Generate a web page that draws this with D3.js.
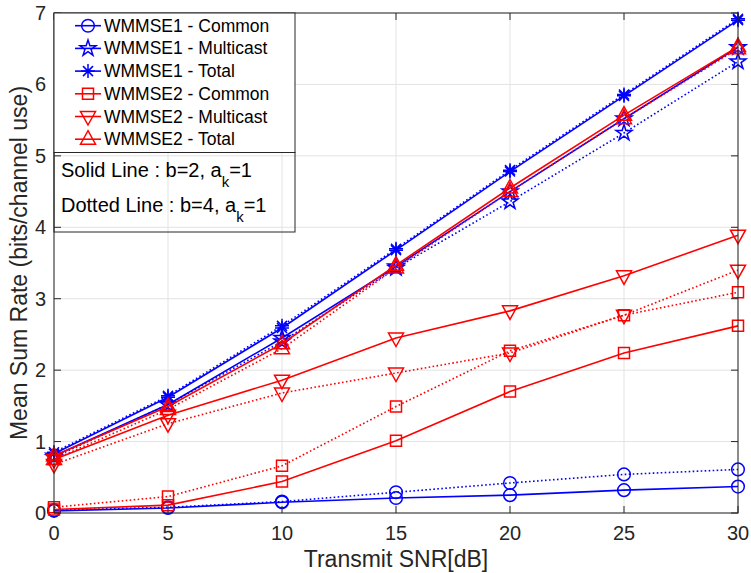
<!DOCTYPE html>
<html>
<head>
<meta charset="utf-8">
<script src="https://cdn.jsdelivr.net/npm/d3@7"></script>
<style>
  body { margin: 0; background: #fff; }
  svg { display: block; font-family: "Liberation Sans", Arial, sans-serif; }
</style>
</head>
<body>
<svg id="chart" width="751" height="573"></svg>
<script>
// x values (transmit SNR in dB)
const snr = [0, 5, 10, 15, 20, 25, 30];
const xTicks = [0, 5, 10, 15, 20, 25, 30];
const yTicks = [0, 1, 2, 3, 4, 5, 6, 7];

// b=2 (solid)
const w1CommonSolid = [0.03, 0.07, 0.15, 0.21, 0.25, 0.32, 0.37];
const w1MultiSolid = [0.80, 1.52, 2.45, 3.45, 4.50, 5.52, 6.52];
const w1TotalSolid = [0.83, 1.62, 2.59, 3.68, 4.78, 5.84, 6.90];
const w2CommonSolid = [0.05, 0.11, 0.44, 1.01, 1.70, 2.24, 2.62];
const w2MultiSolid = [0.75, 1.37, 1.86, 2.45, 2.83, 3.32, 3.89];
const w2TotalSolid = [0.80, 1.49, 2.37, 3.47, 4.55, 5.57, 6.53];

// b=4 (dotted)
const w1CommonDot = [0.04, 0.08, 0.16, 0.29, 0.42, 0.54, 0.61];
const w1MultiDot = [0.78, 1.52, 2.40, 3.43, 4.36, 5.32, 6.32];
const w1TotalDot = [0.85, 1.64, 2.62, 3.70, 4.80, 5.86, 6.92];
const w2CommonDot = [0.08, 0.23, 0.66, 1.49, 2.27, 2.77, 3.09];
const w2MultiDot = [0.68, 1.25, 1.68, 1.96, 2.24, 2.77, 3.40];
const w2TotalDot = [0.75, 1.45, 2.30, 3.43, 4.50, 5.52, 6.50];

const legendLabels = ["WMMSE1 - Common", "WMMSE1 - Multicast", "WMMSE1 - Total",
  "WMMSE2 - Common", "WMMSE2 - Multicast", "WMMSE2 - Total"];

const blue = "#0000ff", red = "#ff0000", axisCol = "#262626", gridCol = "#e3e3e3";

const series = [
  { vals: w1CommonSolid, color: blue, marker: "o", dotted: false },
  { vals: w1CommonDot, color: blue, marker: "o", dotted: true },
  { vals: w1MultiSolid, color: blue, marker: "p", dotted: false },
  { vals: w1MultiDot, color: blue, marker: "p", dotted: true },
  { vals: w1TotalSolid, color: blue, marker: "*", dotted: false },
  { vals: w1TotalDot, color: blue, marker: "*", dotted: true },
  { vals: w2CommonSolid, color: red, marker: "s", dotted: false },
  { vals: w2CommonDot, color: red, marker: "s", dotted: true },
  { vals: w2MultiSolid, color: red, marker: "v", dotted: false },
  { vals: w2MultiDot, color: red, marker: "v", dotted: true },
  { vals: w2TotalSolid, color: red, marker: "^", dotted: false },
  { vals: w2TotalDot, color: red, marker: "^", dotted: true }
];
const legendItems = [
  { color: blue, marker: "o" }, { color: blue, marker: "p" }, { color: blue, marker: "*" },
  { color: red, marker: "s" }, { color: red, marker: "v" }, { color: red, marker: "^" }
];

const svg = d3.select("#chart");
const margin = { left: 54, top: 13, right: 13, bottom: 60 };
const width = 751 - margin.left - margin.right;
const height = 573 - margin.top - margin.bottom;

const x = d3.scaleLinear().domain([0, 30]).range([0, width]);
const y = d3.scaleLinear().domain([0, 7]).range([height, 0]);

const g = svg.append("g").attr("transform", "translate(" + margin.left + "," + margin.top + ")");

// grid
g.append("g").selectAll("line").data(xTicks).join("line")
  .attr("x1", d => x(d)).attr("x2", d => x(d)).attr("y1", 0).attr("y2", height)
  .attr("stroke", gridCol).attr("stroke-width", 1);
g.append("g").selectAll("line").data(yTicks).join("line")
  .attr("y1", d => y(d)).attr("y2", d => y(d)).attr("x1", 0).attr("x2", width)
  .attr("stroke", gridCol).attr("stroke-width", 1);

// marker paths
function markerPath(m) {
  switch (m) {
    case "o": return d3.symbol(d3.symbolCircle, 125)();
    case "s": return "M-5.5,-5.5H5.5V5.5H-5.5Z";
    case "p": return d3.symbol(d3.symbolStar, 80)();
    case "^": return "M0,-8.5L7.5,5L-7.5,5Z";
    case "v": return "M0,8.5L7.5,-5L-7.5,-5Z";
    case "*": return "M-7,0H7M0,-7V7M-5,-5L5,5M-5,5L5,-5";
  }
}

const line = d3.line().x((d, i) => x(snr[i])).y(d => y(d));

const sg = g.append("g").selectAll("g").data(series).join("g");
sg.append("path")
  .attr("d", d => line(d.vals))
  .attr("fill", "none")
  .attr("stroke", d => d.color)
  .attr("stroke-width", 1.6)
  .attr("stroke-dasharray", d => d.dotted ? "1.6,2.4" : null);
sg.each(function (s) {
  d3.select(this).selectAll(".mk").data(s.vals).join("path")
    .attr("class", "mk")
    .attr("transform", (d, i) => "translate(" + x(snr[i]) + "," + y(d) + ")")
    .attr("d", markerPath(s.marker))
    .attr("fill", "none")
    .attr("stroke", s.color)
    .attr("stroke-width", 1.5);
});

// axes box with inward ticks
const tickLen = 7;
const axisG = g.append("g").attr("stroke", axisCol).attr("stroke-width", 1);
axisG.append("rect").attr("x", 0).attr("y", 0).attr("width", width).attr("height", height)
  .attr("fill", "none");
axisG.selectAll(".xtb").data(xTicks).join("line").attr("class", "xtb")
  .attr("x1", d => x(d)).attr("x2", d => x(d)).attr("y1", height).attr("y2", height - tickLen);
axisG.selectAll(".xtt").data(xTicks).join("line").attr("class", "xtt")
  .attr("x1", d => x(d)).attr("x2", d => x(d)).attr("y1", 0).attr("y2", tickLen);
axisG.selectAll(".ytl").data(yTicks).join("line").attr("class", "ytl")
  .attr("y1", d => y(d)).attr("y2", d => y(d)).attr("x1", 0).attr("x2", tickLen);
axisG.selectAll(".ytr").data(yTicks).join("line").attr("class", "ytr")
  .attr("y1", d => y(d)).attr("y2", d => y(d)).attr("x1", width).attr("x2", width - tickLen);

// tick labels
g.append("g").selectAll("text").data(xTicks).join("text")
  .attr("x", d => x(d)).attr("y", height + 27)
  .attr("text-anchor", "middle").attr("fill", axisCol).attr("font-size", 20)
  .text(d => d);
g.append("g").selectAll("text").data(yTicks).join("text")
  .attr("x", -8).attr("y", d => y(d) + 7)
  .attr("text-anchor", "end").attr("fill", axisCol).attr("font-size", 20)
  .text(d => d);

// axis labels
g.append("text").attr("x", width / 2).attr("y", height + 54)
  .attr("text-anchor", "middle").attr("fill", axisCol).attr("font-size", 23)
  .text("Transmit SNR[dB]");
g.append("text").attr("transform", "translate(-27," + (height / 2) + ") rotate(-90)")
  .attr("text-anchor", "middle").attr("fill", axisCol).attr("font-size", 23)
  .text("Mean Sum Rate (bits/channel use)");

// legend
const lg = g.append("g");
lg.append("rect").attr("x", 0).attr("y", 0).attr("width", 241).attr("height", 139.5)
  .attr("fill", "#fff").attr("stroke", axisCol).attr("stroke-width", 1);
const rows = lg.selectAll(".row").data(legendItems).join("g").attr("class", "row")
  .attr("transform", (d, i) => "translate(0," + (12.7 + i * 22.7) + ")");
rows.append("line").attr("x1", 21).attr("x2", 47).attr("stroke", d => d.color).attr("stroke-width", 1.6);
rows.append("path").attr("transform", "translate(34,0)")
  .attr("d", d => markerPath(d.marker)).attr("fill", "none")
  .attr("stroke", d => d.color).attr("stroke-width", 1.5);
rows.append("text").attr("x", 50).attr("y", 6).attr("font-size", 17.5).attr("fill", "#000")
  .text((d, i) => legendLabels[i]);

// annotation box
const ann = g.append("g").attr("transform", "translate(0,139.5)");
ann.append("rect").attr("x", 0).attr("y", 0).attr("width", 241).attr("height", 79.5)
  .attr("fill", "none").attr("stroke", axisCol).attr("stroke-width", 1);
const annLines = [["Solid Line : b=2, a", "k", "=1"], ["Dotted Line : b=4, a", "k", "=1"]];
ann.selectAll("text").data(annLines).join("text")
  .attr("x", 7).attr("y", (d, i) => 24 + i * 35).attr("font-size", 20).attr("fill", "#000")
  .each(function (d) {
    const t = d3.select(this);
    t.append("tspan").text(d[0]);
    t.append("tspan").attr("dy", 10).attr("font-size", 15).text(d[1]);
    t.append("tspan").attr("dy", -10).text(d[2]);
  });
</script>
</body>
</html>
